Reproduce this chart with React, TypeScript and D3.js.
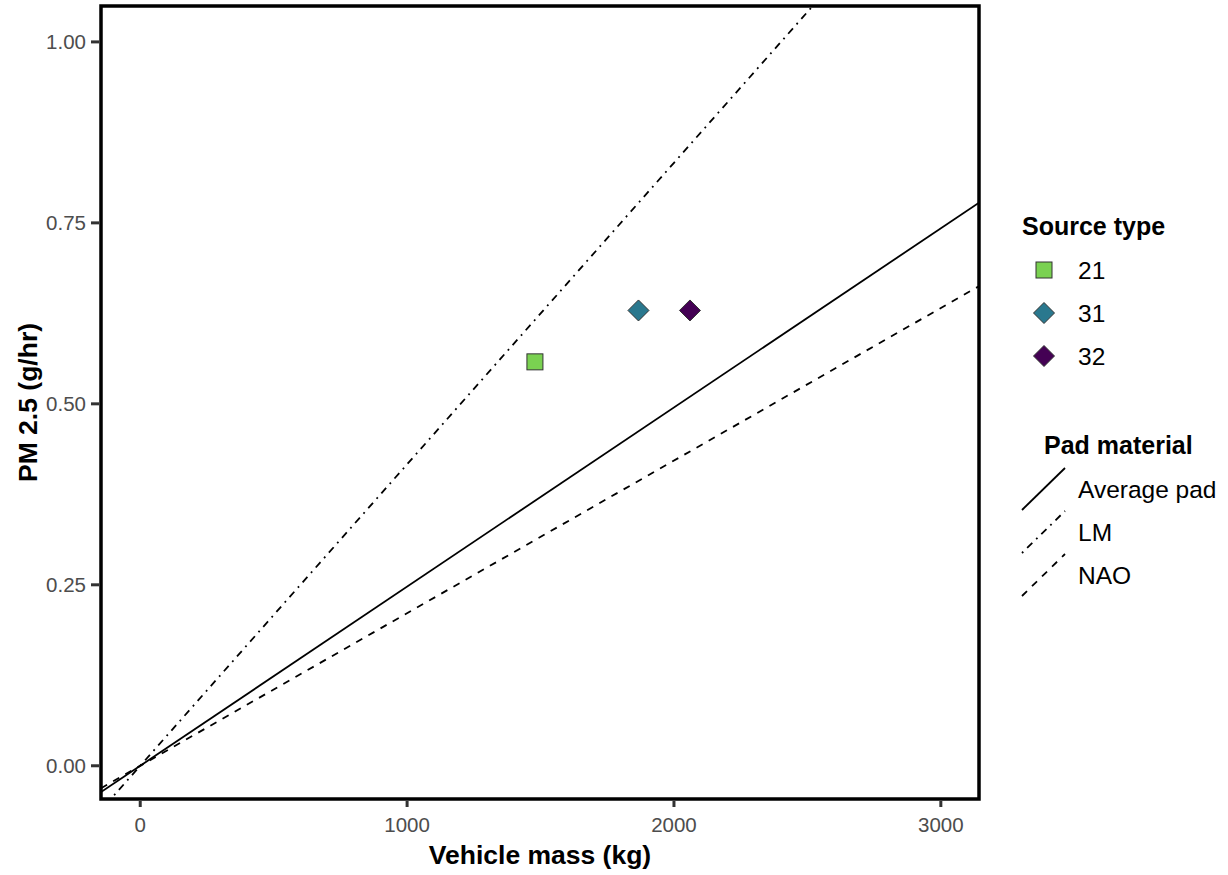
import React from "react";
import * as d3 from "d3";

const sourceTypes = ["21", "31", "32"];
const pointMass = [1479, 1867, 2060];
const pointPM = [0.558, 0.629, 0.629];
const pointColors = ["#7AD151", "#2A788E", "#440154"];
const pointShapes = ["square", "diamond", "diamond"];

const padNames = ["Average pad", "LM", "NAO"];
const padSlopes = [0.0002475, 0.0004165, 0.0002108];
const padIntercepts = [0, 0, 0];
const padDash = ["none", "1.8,5.4,7.2,5.4", "7,7"];

const xTicks = [0, 1000, 2000, 3000];
const yTicks = [0, 0.25, 0.5, 0.75, 1.0];

const W = 1228, H = 875;
const P = { left: 101, right: 979, top: 6, bottom: 799 };
const FONT = "Liberation Sans, Arial, sans-serif";

export default function App() {
  const x = d3.scaleLinear().domain([-147, 3143]).range([P.left, P.right]);
  const y = d3.scaleLinear().domain([-0.0459, 1.0496]).range([P.bottom, P.top]);
  const [x0, x1] = x.domain();

  const diamond = (cx: number, cy: number, r: number) =>
    `M${cx},${cy - r}L${cx + r},${cy}L${cx},${cy + r}L${cx - r},${cy}Z`;

  return (
    <svg width={W} height={H} style={{ position: "absolute", left: 0, top: 0 }} fontFamily={FONT}>
      <rect width={W} height={H} fill="white" />
      <defs>
        <clipPath id="panel">
          <rect x={P.left} y={P.top} width={P.right - P.left} height={P.bottom - P.top} />
        </clipPath>
      </defs>
      <g clipPath="url(#panel)">
        {padNames.map((n, i) => (
          <line
            key={n}
            x1={x(x0)}
            y1={y(padIntercepts[i] + padSlopes[i] * x0)}
            x2={x(x1)}
            y2={y(padIntercepts[i] + padSlopes[i] * x1)}
            stroke="black"
            strokeWidth={1.8}
            strokeDasharray={padDash[i]}
          />
        ))}
        {sourceTypes.map((s, i) =>
          pointShapes[i] === "square" ? (
            <rect
              key={s}
              x={x(pointMass[i]) - 8}
              y={y(pointPM[i]) - 8}
              width={16}
              height={16}
              fill={pointColors[i]}
              stroke="#333"
              strokeWidth={1}
            />
          ) : (
            <path key={s} d={diamond(x(pointMass[i]), y(pointPM[i]), 10.5)} fill={pointColors[i]} stroke="#333" strokeWidth={1} />
          )
        )}
      </g>
      <rect
        x={P.left}
        y={P.top}
        width={P.right - P.left}
        height={P.bottom - P.top}
        fill="none"
        stroke="black"
        strokeWidth={3.5}
      />
      {xTicks.map((t) => (
        <g key={t}>
          <line x1={x(t)} x2={x(t)} y1={P.bottom + 2} y2={P.bottom + 8} stroke="#333" strokeWidth={3} />
          <text x={x(t)} y={P.bottom + 33} textAnchor="middle" fontSize={20.5} fill="#4D4D4D">
            {t}
          </text>
        </g>
      ))}
      {yTicks.map((t) => (
        <g key={t}>
          <line x1={P.left - 2} x2={P.left - 10} y1={y(t)} y2={y(t)} stroke="#333" strokeWidth={3} />
          <text x={P.left - 15} y={y(t) + 7} textAnchor="end" fontSize={20.5} fill="#4D4D4D">
            {t.toFixed(2)}
          </text>
        </g>
      ))}
      <text x={(P.left + P.right) / 2} y={864} textAnchor="middle" fontSize={26.5} fontWeight="bold">
        Vehicle mass (kg)
      </text>
      <text
        transform={`translate(37,${(P.top + P.bottom) / 2}) rotate(-90)`}
        textAnchor="middle"
        fontSize={26.5}
        fontWeight="bold"
      >
        PM 2.5 (g/hr)
      </text>

      {/* Source type legend */}
      <text x={1022} y={235} fontSize={25} fontWeight="bold">
        Source type
      </text>
      {sourceTypes.map((s, i) => {
        const cy = 270 + i * 43;
        return (
          <g key={s}>
            {pointShapes[i] === "square" ? (
              <rect x={1036} y={cy - 8} width={16} height={16} fill={pointColors[i]} stroke="#333" strokeWidth={1} />
            ) : (
              <path d={diamond(1044, cy, 10.5)} fill={pointColors[i]} stroke="#333" strokeWidth={1} />
            )}
            <text x={1078} y={cy + 9} fontSize={24.5}>
              {s}
            </text>
          </g>
        );
      })}

      {/* Pad material legend */}
      <text x={1044} y={454} fontSize={25} fontWeight="bold">
        Pad material
      </text>
      {padNames.map((n, i) => {
        const cy = 489 + i * 43;
        return (
          <g key={n}>
            <line
              x1={1022}
              y1={cy + 21}
              x2={1065}
              y2={cy - 21}
              stroke="black"
              strokeWidth={1.8}
              strokeDasharray={padDash[i]}
            />
            <text x={1078} y={cy + 9} fontSize={24.5}>
              {n}
            </text>
          </g>
        );
      })}
    </svg>
  );
}
